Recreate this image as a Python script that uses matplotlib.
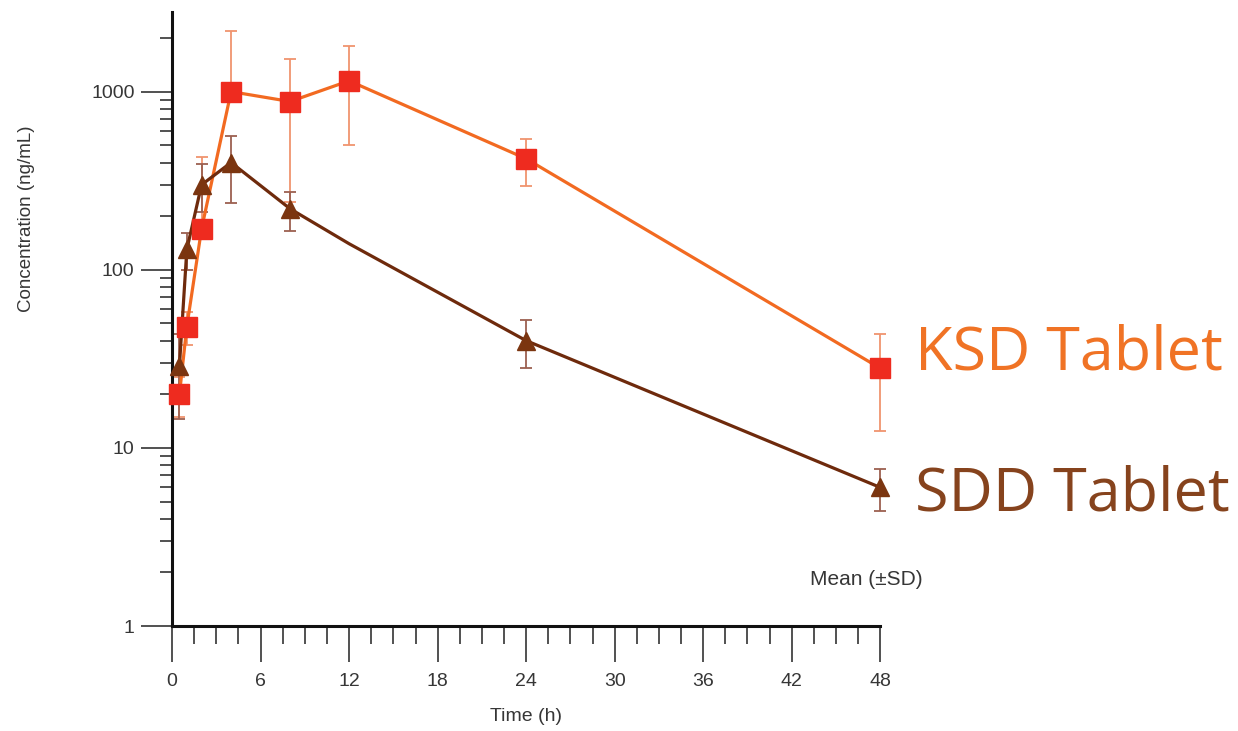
import numpy as np
import matplotlib
matplotlib.use("Agg")
import matplotlib.pyplot as plt
from matplotlib.ticker import MultipleLocator, LogLocator, NullFormatter

# sampling times (h)
time_h = [0.5, 1, 2, 4, 8, 12, 24, 48]

# KSD tablet: mean and SD (ng/mL)
ksd_mean = [20, 48, 170, 1000, 880, 1150, 420, 28]
ksd_sd = [5, 10, 260, 1200, 640, 650, 125, 15.5]

# SDD tablet: mean and SD (ng/mL); no marker / SD shown at 12 h
sdd_mean = [29, 130, 300, 400, 220, 140, 40, 6]
sdd_sd = [14.5, 30, 90, 163, 55, np.nan, 12, 1.6]

x_ticks = [0, 6, 12, 18, 24, 30, 36, 42, 48]
y_ticks = [1, 10, 100, 1000]
y_tick_labels = ["1", "10", "100", "1000"]

ksd_line = "#F26A21"
ksd_marker = "#EE2B1F"
ksd_err = "#F0946E"
sdd_line = "#6E2A0C"
sdd_marker = "#7B3510"
sdd_err = "#9C6050"
text_gray = "#363636"

plt.rcParams["font.family"] = ["Liberation Sans", "DejaVu Sans"]

fig = plt.figure(figsize=(12.38, 7.31), dpi=100)
ax = fig.add_axes([0.139, 0.1436, 0.572, 0.84])


def draw_series(t, mean, sd, line_c, marker_c, err_c, marker):
    t = np.array(t, dtype=float)
    mean = np.array(mean, dtype=float)
    sd = np.array(sd, dtype=float)
    has_sd = np.isfinite(sd)
    # on a log axis the lower bar is left out where mean - SD <= 0
    lower = np.where(sd < mean, sd, 0)
    ax.errorbar(
        t[has_sd], mean[has_sd],
        yerr=[lower[has_sd], sd[has_sd]],
        fmt="none", ecolor=err_c, elinewidth=1.3,
        capsize=4, capthick=1.3, zorder=2, clip_on=False
    )
    ax.plot(t, mean, color=line_c, lw=2.3, zorder=3, clip_on=False)
    ax.plot(
        t[has_sd], mean[has_sd], linestyle="none",
        marker=marker, markersize=14 if marker == "s" else 13,
        color=marker_c, zorder=4, clip_on=False
    )


draw_series(time_h, ksd_mean, ksd_sd, ksd_line, ksd_marker, ksd_err, "s")
draw_series(time_h, sdd_mean, sdd_sd, sdd_line, sdd_marker, sdd_err, "^")

ax.set_yscale("log")
ax.set_xlim(0, 48)
ax.set_ylim(1, 2800)

ax.set_xticks(x_ticks)
ax.xaxis.set_minor_locator(MultipleLocator(1.5))
ax.set_yticks(y_ticks, labels=y_tick_labels)
ax.yaxis.set_minor_locator(LogLocator(base=10, subs=np.arange(2, 10)))
ax.yaxis.set_minor_formatter(NullFormatter())

for side in ["top", "right"]:
    ax.spines[side].set_visible(False)
for side in ["left", "bottom"]:
    ax.spines[side].set_linewidth(2.2)
    ax.spines[side].set_color("#111111")

ax.tick_params(axis="x", which="major", direction="out", length=26,
               width=1.2, color="#333333", pad=8, labelsize=14,
               labelcolor=text_gray)
ax.tick_params(axis="x", which="minor", direction="out", length=13,
               width=1.2, color="#333333")
ax.tick_params(axis="y", which="major", direction="out", length=22,
               width=1.2, color="#333333", pad=5, labelsize=14,
               labelcolor=text_gray)
ax.tick_params(axis="y", which="minor", direction="out", length=9,
               width=1.2, color="#333333")

ax.set_xlabel("Time (h)", fontsize=14, color=text_gray)
ax.xaxis.set_label_coords(0.5, -0.133)
ax.set_ylabel("Concentration (ng/mL)", fontsize=13.5, color=text_gray)
ax.yaxis.set_label_coords(-0.193, 0.663)

fig.text(0.654, 0.2066, "Mean (\u00b1SD)", fontsize=15, color=text_gray,
         va="center", ha="left")

fig.text(0.739, 0.494, "KSD Tablet", fontsize=44, color="#F07325",
         family=["Open Sans", "DejaVu Sans"], va="baseline", ha="left")
fig.text(0.739, 0.302, "SDD Tablet", fontsize=44, color="#86431D",
         family=["Open Sans", "DejaVu Sans"], va="baseline", ha="left")

fig.savefig("out.png", dpi=100, facecolor="white")
